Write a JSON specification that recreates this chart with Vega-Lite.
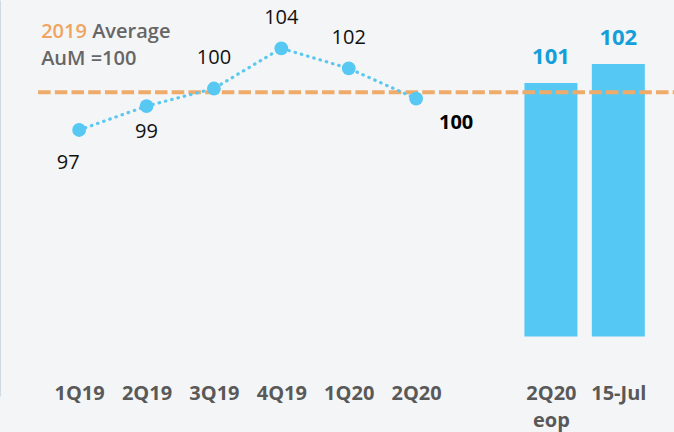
{
  "$schema": "https://vega.github.io/schema/vega-lite/v6.json",
  "width": 674,
  "height": 396,
  "autosize": {"type": "none"},
  "padding": {"left": 0, "top": 0, "right": 0, "bottom": 36},
  "background": "#f4f5f7",
  "config": {
    "view": {"stroke": null},
    "font": "Open Sans",
    "text": {"font": "Open Sans"}
  },
  "datasets": {
    "line": [
      {"period": "1Q19", "value": 97.0, "label": "97"},
      {"period": "2Q19", "value": 98.9, "label": "99"},
      {"period": "3Q19", "value": 100.3, "label": "100"},
      {"period": "4Q19", "value": 103.5, "label": "104"},
      {"period": "1Q20", "value": 101.9, "label": "102"},
      {"period": "2Q20", "value": 99.5, "label": "100"}
    ],
    "bars": [
      {"period": "2Q20 eop", "value": 100.74, "label": "101"},
      {"period": "15-Jul", "value": 102.25, "label": "102"}
    ],
    "avg": [
      {"name": "2019 Average AuM", "value": 100}
    ]
  },
  "encoding": {
    "x": {
      "field": "period",
      "type": "nominal",
      "sort": null,
      "scale": {
        "type": "point",
        "domain": ["1Q19", "2Q19", "3Q19", "4Q19", "1Q20", "2Q20", " ", "2Q20 eop", "15-Jul"],
        "padding": 1.03,
        "align": 0.587
      },
      "axis": {
        "title": null,
        "domain": false,
        "ticks": false,
        "tickSize": 0,
        "labelPadding": 3,
        "labelBaseline": "alphabetic",
        "labelFont": "Open Sans",
        "labelFontWeight": "bold",
        "labelFontSize": 20,
        "labelColor": "#595959",
        "labelLineHeight": 27,
        "labelAngle": 0,
        "labelExpr": "datum.value == '2Q20 eop' ? ['2Q20', 'eop'] : datum.value"
      }
    },
    "y": {
      "field": "value",
      "type": "quantitative",
      "scale": {"domain": [75.84, 107.34], "zero": false, "nice": false},
      "axis": {
        "title": null,
        "labels": false,
        "ticks": false,
        "grid": false,
        "domain": true,
        "domainColor": "#d0dae2",
        "domainWidth": 1
      }
    }
  },
  "layer": [
    {
      "data": {"name": "bars"},
      "mark": {"type": "bar", "width": 53, "color": "#55c9f3"},
      "encoding": {
        "y2": {"datum": 80.57}
      }
    },
    {
      "data": {"name": "bars"},
      "mark": {"type": "text", "font": "Open Sans", "fontWeight": "bold", "fontSize": 22, "color": "#139fd9", "baseline": "alphabetic", "dy": -19},
      "encoding": {"text": {"field": "label"}}
    },
    {
      "data": {"name": "avg"},
      "mark": {"type": "rule", "color": "#efab6a", "strokeWidth": 4, "strokeDash": [12.5, 4.2], "xOffset": -41, "x2Offset": 57},
      "encoding": {
        "x": {"datum": "1Q19"},
        "x2": {"datum": "15-Jul"}
      }
    },
    {
      "data": {"name": "line"},
      "mark": {"type": "line", "color": "#5bc8f0", "strokeWidth": 3.2, "strokeDash": [0.5, 6], "strokeCap": "round"},
      "encoding": {}
    },
    {
      "data": {"name": "line"},
      "mark": {"type": "circle", "size": 190, "color": "#56c8f2", "opacity": 1},
      "encoding": {}
    },
    {
      "data": {"name": "line"},
      "transform": [{"filter": "datum.period == '1Q19'"}],
      "mark": {"type": "text", "font": "Open Sans", "fontSize": 20, "color": "#111111", "baseline": "alphabetic", "dx": -11, "dy": 39},
      "encoding": {"text": {"field": "label"}}
    },
    {
      "data": {"name": "line"},
      "transform": [{"filter": "datum.period == '2Q19'"}],
      "mark": {"type": "text", "font": "Open Sans", "fontSize": 20, "color": "#111111", "baseline": "alphabetic", "dy": 32},
      "encoding": {"text": {"field": "label"}}
    },
    {
      "data": {"name": "line"},
      "transform": [{"filter": "datum.period == '3Q19' || datum.period == '4Q19' || datum.period == '1Q20'"}],
      "mark": {"type": "text", "font": "Open Sans", "fontSize": 20, "color": "#111111", "baseline": "alphabetic", "dy": -24.5},
      "encoding": {"text": {"field": "label"}}
    },
    {
      "data": {"name": "line"},
      "transform": [{"filter": "datum.period == '2Q20'"}],
      "mark": {"type": "text", "font": "Open Sans", "fontWeight": "bold", "fontSize": 20, "color": "#000000", "baseline": "alphabetic", "dx": 40, "dy": 30},
      "encoding": {"text": {"field": "label"}}
    },
    {
      "data": {"name": "avg"},
      "mark": {"type": "text", "font": "Open Sans", "fontWeight": 600, "fontSize": 20, "color": "#efa45f", "align": "left", "baseline": "alphabetic", "dx": -38, "dy": -54, "text": "2019"},
      "encoding": {"x": {"datum": "1Q19"}}
    },
    {
      "data": {"name": "avg"},
      "mark": {"type": "text", "font": "Open Sans", "fontWeight": 600, "fontSize": 20, "color": "#666666", "align": "left", "baseline": "alphabetic", "dx": 13, "dy": -54, "text": "Average"},
      "encoding": {"x": {"datum": "1Q19"}}
    },
    {
      "data": {"name": "avg"},
      "mark": {"type": "text", "font": "Open Sans", "fontWeight": 600, "fontSize": 20, "color": "#666666", "align": "left", "baseline": "alphabetic", "dx": -38, "dy": -27.3, "text": "AuM =100"},
      "encoding": {"x": {"datum": "1Q19"}}
    }
  ]
}
